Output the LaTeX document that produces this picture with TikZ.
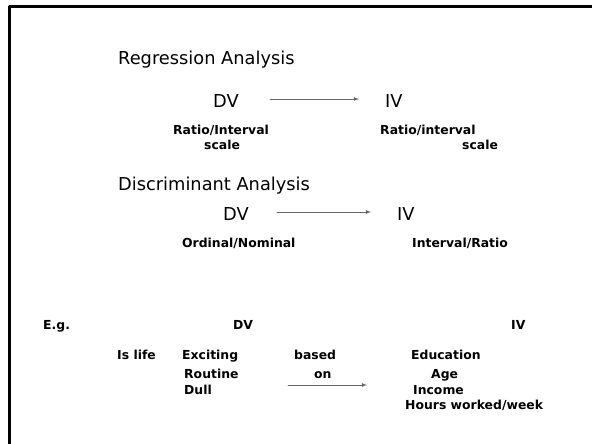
\documentclass[tikz,border=0pt]{standalone}
\usepackage{fontspec}
\setmainfont{DejaVu Sans}
\usepackage{tikz}
\usetikzlibrary{arrows}

\begin{document}
\begin{tikzpicture}[line cap=round,line join=round,>=latex,x=1pt,y=-1pt,
  head/.style={anchor=base west,inner sep=0pt,font=\fontsize{17.8}{20}\selectfont},
  sub/.style={anchor=base west,inner sep=0pt,font=\fontsize{12.4}{14}\selectfont\bfseries},
  link/.style={->,line width=0.8pt,color=black!60}]
\useasboundingbox (0,0) rectangle (592,444);
\draw [line width=3pt] (9,448) -- (9,7) -- (596,7);
% Regression
\node [head] (reg) at (118,65) {Regression Analysis};
\node [head] (rdv) at (213,107.5) {DV};
\node [head] (riv) at (385,107.5) {IV};
\node [sub] (rdvs1) at (173,135) {Ratio/Interval};
\node [sub] (rdvs2) at (204,149) {scale};
\node [sub] (rivs1) at (380,135) {Ratio/interval};
\node [sub] (rivs2) at (462,149) {scale};
\coordinate (ra) at (270,99);
\coordinate (rb) at (359,99);
\draw [link] (ra) -- (rb);
% Discriminant
\node [head] (dis) at (118,190) {Discriminant Analysis};
\node [head] (ddv) at (223,220) {DV};
\node [head] (div) at (397,220) {IV};
\node [sub] (ddvs) at (182,247) {Ordinal/Nominal};
\node [sub] (divs) at (412,247) {Interval/Ratio};
\coordinate (da) at (277,212);
\coordinate (db) at (371,212);
\draw [link] (da) -- (db);
% Example
\node [sub] (eg) at (43,329) {E.g.};
\node [sub] (edv) at (233,329) {DV};
\node [sub] (eiv) at (511,329) {IV};
\node [sub] (isl) at (117,359) {Is life};
\node [sub] (exc) at (182,359) {Exciting};
\node [sub] (rou) at (184,378) {Routine};
\node [sub] (dul) at (184,394) {Dull};
\node [sub] (bas) at (294,359) {based};
\node [sub] (on) at (314,378) {on};
\node [sub] (edu) at (411,359) {Education};
\node [sub] (age) at (431,378) {Age};
\node [sub] (inc) at (413,394) {Income};
\node [sub] (hrs) at (405,409) {Hours worked/week};
\coordinate (ea) at (288,385);
\coordinate (eb) at (367,385);
\draw [link] (ea) -- (eb);
\end{tikzpicture}
\end{document}
